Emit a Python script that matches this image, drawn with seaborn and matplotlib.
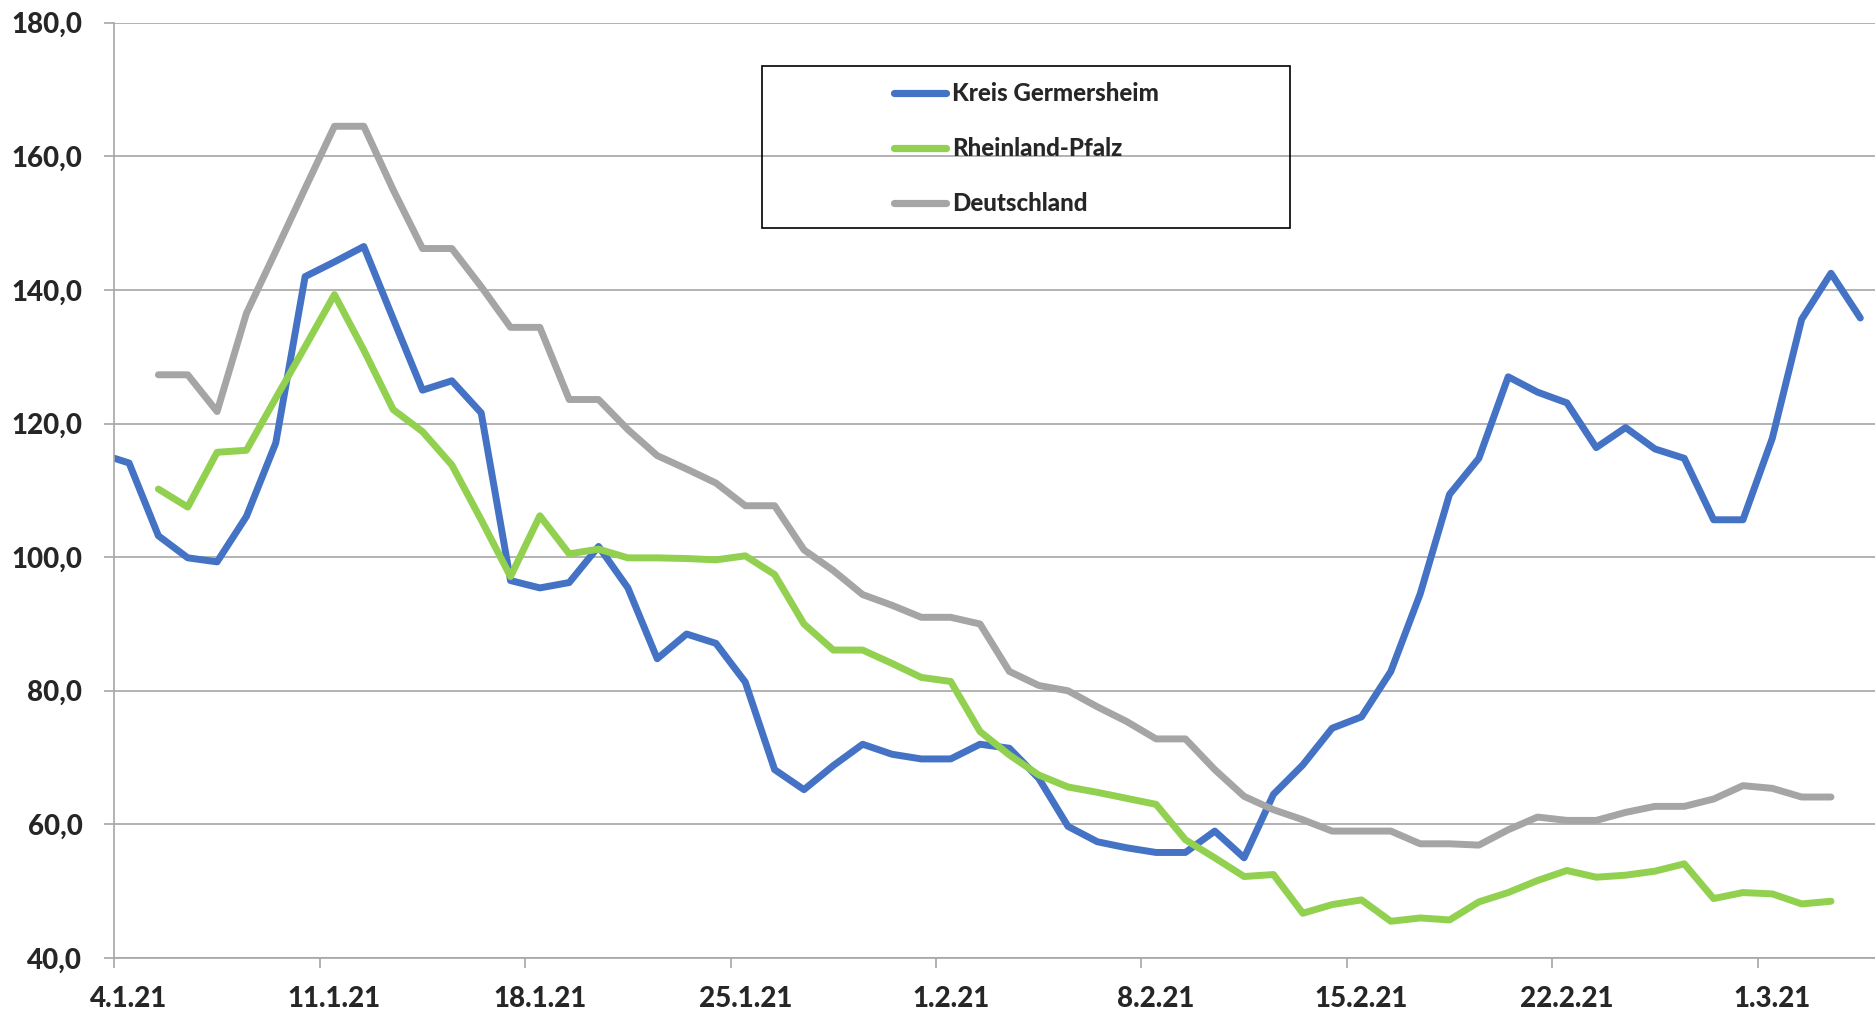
import numpy as np
import pandas as pd
import matplotlib
matplotlib.use("Agg")
import matplotlib.pyplot as plt
import matplotlib.ticker as mticker
from matplotlib.patches import Rectangle
import seaborn as sns

# -----------------------------
# Data (7-Tage-Inzidenz), daily from 3.1.21 to 4.3.21
# -----------------------------
days = list(range(-1, 60))   # 0 = 4.1.21

kreis_germersheim = [
    115.5, 114.1, 103.2, 99.9, 99.3, 106.1, 117.1, 142.0, 144.2, 146.5,
    135.7, 125.0, 126.4, 121.6, 96.5, 95.4, 96.2, 101.6, 95.4, 84.8,
    88.5, 87.1, 81.3, 68.2, 65.2, 68.8, 72.0, 70.5, 69.8, 69.8,
    72.0, 71.4, 66.9, 59.7, 57.4, 56.5, 55.8, 55.8, 59.0, 55.0,
    64.5, 68.9, 74.4, 76.1, 82.9, 94.5, 109.4, 114.8, 127.0, 124.7,
    123.1, 116.4, 119.4, 116.2, 114.8, 105.6, 105.6, 117.8, 135.6, 142.5,
    135.8,
]

rheinland_pfalz = [
    None, None, 110.2, 107.5, 115.7, 116.0, 123.8, 131.5, 139.3, 131.0,
    122.1, 118.8, 113.8, 105.6, 97.1, 106.2, 100.5, 101.2, 99.9, 99.9,
    99.8, 99.6, 100.2, 97.4, 90.0, 86.1, 86.1, 84.1, 82.0, 81.4,
    73.9, 70.4, 67.4, 65.6, 64.8, 63.9, 63.0, 57.7, 55.0, 52.2,
    52.5, 46.7, 48.0, 48.7, 45.5, 46.0, 45.7, 48.4, 49.8, 51.6,
    53.1, 52.1, 52.4, 53.0, 54.1, 48.9, 49.8, 49.6, 48.1, 48.5,
    None,
]

deutschland = [
    None, None, 127.3, 127.3, 121.8, 136.5, 145.8, 155.2, 164.5, 164.5,
    155.0, 146.2, 146.2, 140.5, 134.4, 134.4, 123.6, 123.6, 119.1, 115.2,
    113.2, 111.1, 107.7, 107.7, 101.1, 98.0, 94.4, 92.8, 91.0, 91.0,
    90.0, 82.9, 80.8, 80.0, 77.6, 75.4, 72.8, 72.8, 68.2, 64.2,
    62.2, 60.7, 59.0, 59.0, 59.0, 57.1, 57.1, 56.9, 59.2, 61.1,
    60.6, 60.6, 61.8, 62.7, 62.7, 63.8, 65.8, 65.4, 64.1, 64.1,
    None,
]

series_names = ["Kreis Germersheim", "Rheinland-Pfalz", "Deutschland"]
colors = ["#4472C4", "#92D050", "#A5A5A5"]

tick_days = [0, 7, 14, 21, 28, 35, 42, 49, 56]
tick_labels = ["4.1.21", "11.1.21", "18.1.21", "25.1.21", "1.2.21",
               "8.2.21", "15.2.21", "22.2.21", "1.3.21"]

# -----------------------------
# Long table for seaborn
# -----------------------------
df = pd.concat([
    pd.DataFrame({"day": days, "value": vals, "region": name})
    for name, vals in zip(series_names, [kreis_germersheim, rheinland_pfalz, deutschland])
])
df["value"] = df["value"].astype(float)
df = df.dropna()

# -----------------------------
# Plot
# -----------------------------
sns.set_style("white")
plt.rcParams["font.family"] = ["Lato", "DejaVu Sans"]

fig = plt.figure(figsize=(18.75, 10.14), dpi=100)
ax = fig.add_axes([0.061, 0.0552, 0.939, 0.9224])

grid_col = "#A6A6A6"
ax.set_axisbelow(True)
ax.yaxis.grid(True, color=grid_col, lw=1.2)
ax.xaxis.grid(False)

sns.lineplot(data=df, x="day", y="value", hue="region", hue_order=series_names,
             palette=colors, lw=5, sort=False, ax=ax,
             solid_joinstyle="round", solid_capstyle="round")

ax.set_xlim(-0.5, 59.5)
ax.set_ylim(40, 180)
ax.set_yticks(np.arange(40, 181, 20))
ax.yaxis.set_major_formatter(mticker.FuncFormatter(lambda v, p: f"{v:.1f}".replace(".", ",")))

ax.set_xticks(tick_days)
ax.set_xticklabels(tick_labels)
ax.set_xticks(np.arange(-0.5, 60, 7), minor=True)
ax.tick_params(axis="x", which="major", length=0, pad=20, labelsize=20)
ax.tick_params(axis="x", which="minor", length=7, width=1.2, color=grid_col, direction="out")
ax.tick_params(axis="y", length=7, width=1.2, color=grid_col, direction="out", pad=16, labelsize=20)
ax.tick_params(axis="y", left=True)
ax.tick_params(axis="x", bottom=True, which="minor")
for lab in ax.get_xticklabels() + ax.get_yticklabels():
    lab.set_fontweight("black")

for side in ["top", "right"]:
    ax.spines[side].set_visible(False)
for side in ["left", "bottom"]:
    ax.spines[side].set_color(grid_col)
    ax.spines[side].set_linewidth(1.2)

ax.set_xlabel("")
ax.set_ylabel("")

# -----------------------------
# Legend with its own frame
# -----------------------------
handles, labels = ax.get_legend_handles_labels()
leg = ax.legend(handles, labels, loc="upper left", bbox_to_anchor=(0.4705, 0.9305),
                bbox_transform=fig.transFigure, frameon=False, borderpad=0,
                handlelength=2.15, handletextpad=0.25, labelspacing=1.32,
                prop={"weight": "black", "size": 17.3})
for line in leg.get_lines():
    line.set_linewidth(5.2)

fig.add_artist(Rectangle((762 / 1875, 1 - 228 / 1014), 528 / 1875, 162 / 1014,
                         transform=fig.transFigure, fill=False, edgecolor="black", lw=1.2))

plt.savefig("out.png", dpi=100)
plt.close()
